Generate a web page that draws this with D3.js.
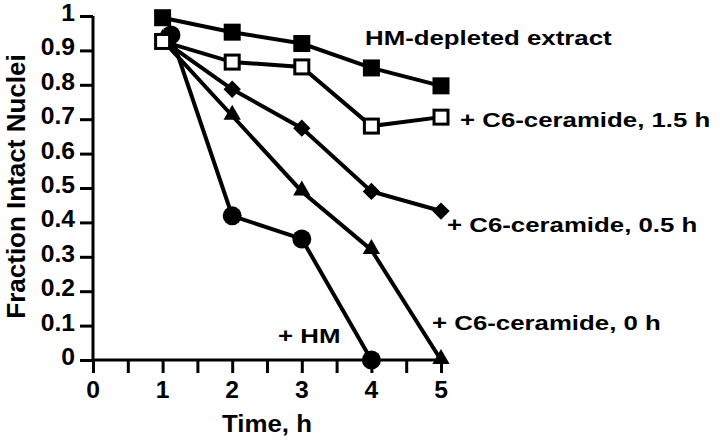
<!DOCTYPE html>
<html><head><meta charset="utf-8">
<script src="https://cdn.jsdelivr.net/npm/d3@7"></script>
<style>
body{margin:0;background:#fff;}
text{font-family:"Liberation Sans",Arial,sans-serif;font-weight:bold;fill:#000;}
</style></head>
<body><svg id="c" width="720" height="441"></svg>
<script>
const xTicks = [0,0.5,1,1.5,2,2.5,3,3.5,4,4.5,5];
const xTickLabels = ["0","","1","","2","","3","","4","","5"];
const yTicks = [0,0.1,0.2,0.3,0.4,0.5,0.6,0.7,0.8,0.9,1];
const yTickLabels = ["0","0.1","0.2","0.3","0.4","0.5","0.6","0.7","0.8","0.9","1"];

const depletedT = [1,2,3,4,5];
const depletedV = [0.995,0.953,0.92,0.849,0.797];
const cer15T = [1,2,3,4,5];
const cer15V = [0.926,0.866,0.852,0.68,0.706];
const cer05T = [1,2,3,4,5];
const cer05V = [0.93,0.787,0.674,0.49,0.433];
const cer0T = [1,2,3,4,5];
const cer0V = [0.93,0.71,0.49,0.32,0.0];
const hmT = [1.12,2,3,4];
const hmV = [0.945,0.419,0.352,0.0];

const svg = d3.select("#c");
const x = d3.scaleLinear().domain([0,5]).range([93,441]);
const y = d3.scaleLinear().domain([0,1]).range([360,16]);

function stretchText(g, str, tx, ty, size, sx, anchor){
  return g.append("text")
    .attr("transform","translate("+tx+","+ty+") scale("+sx+",1)")
    .attr("text-anchor",anchor||"start").attr("font-size",size).text(str);
}

// axes (lines and ticks from d3 axes, labels placed from the same scales)
const xAxis = svg.append("g").attr("transform","translate(0,360)")
  .call(d3.axisBottom(x).tickValues(xTicks).tickSize(13).tickFormat(""));
const yAxis = svg.append("g").attr("transform","translate(93,0)")
  .call(d3.axisLeft(y).tickValues(yTicks).tickSize(13).tickFormat(""));
[xAxis,yAxis].forEach(g=>{
  g.select(".domain").attr("stroke","#000").attr("stroke-width",3);
  g.selectAll(".tick line").attr("stroke","#000").attr("stroke-width",3);
});
yAxis.select(".domain").attr("d","M0,"+y(1)+"V"+y(0));
xAxis.select(".domain").attr("d","M"+x(0)+",0H"+x(5));

xTicks.forEach((t,i)=>{ if(xTickLabels[i]) stretchText(svg, xTickLabels[i], x(t), 398, 23.5, 1.05, "middle"); });
yTicks.forEach((t,i)=>stretchText(svg, yTickLabels[i], 75, y(t)+5, 23.5, 1.05, "end"));

svg.append("text").attr("transform","translate(25,186.5) rotate(-90)")
  .attr("text-anchor","middle").attr("font-size",26).text("Fraction Intact Nuclei");
stretchText(svg, "Time, h", 267, 432, 23.5, 1.1, "middle");

const line = d3.line().x(d=>x(d[0])).y(d=>y(d[1]));
const zip = (t,v)=>t.map((d,i)=>[d,v[i]]);
const series = [
  {d:zip(hmT,hmV), m:"circle"},
  {d:zip(cer0T,cer0V), m:"triangle"},
  {d:zip(cer05T,cer05V), m:"diamond"},
  {d:zip(cer15T,cer15V), m:"open"},
  {d:zip(depletedT,depletedV), m:"square"},
];
series.forEach(s=>{
  svg.append("path").attr("d",line(s.d)).attr("fill","none")
    .attr("stroke","#000").attr("stroke-width",4);
});
const sym = {
  circle: d3.symbol().type(d3.symbolCircle).size(Math.PI*9.5*9.5),
  triangle: d3.symbol().type(d3.symbolTriangle).size(130),
  diamond: d3.symbol().type(d3.symbolSquare).size(150),
};
series.forEach(s=>{
  s.d.forEach(p=>{
    const cx=x(p[0]), cy=y(p[1]);
    if(s.m==="square"){
      svg.append("rect").attr("x",cx-8.5).attr("y",cy-8.5).attr("width",17).attr("height",17).attr("fill","#000");
    } else if(s.m==="open"){
      svg.append("rect").attr("x",cx-7).attr("y",cy-7).attr("width",14).attr("height",14)
        .attr("fill","#fff").attr("stroke","#000").attr("stroke-width",3);
    } else if(s.m==="diamond"){
      svg.append("path").attr("d",sym.diamond()).attr("transform","translate("+cx+","+cy+") rotate(45)").attr("fill","#000");
    } else {
      svg.append("path").attr("d",sym[s.m]()).attr("transform","translate("+cx+","+(cy+(s.m==="triangle"?-1:0))+")").attr("fill","#000");
    }
  });
});

const labels = [
  {t:"HM-depleted extract", x:365, y:45},
  {t:"+ C6-ceramide, 1.5 h", x:460, y:127},
  {t:"+ C6-ceramide, 0.5 h", x:447, y:232},
  {t:"+ C6-ceramide, 0 h", x:432, y:330},
  {t:"+ HM", x:278, y:343},
];
labels.forEach(l=>stretchText(svg, l.t, l.x, l.y, 20.5, 1.26));
</script></body></html>
